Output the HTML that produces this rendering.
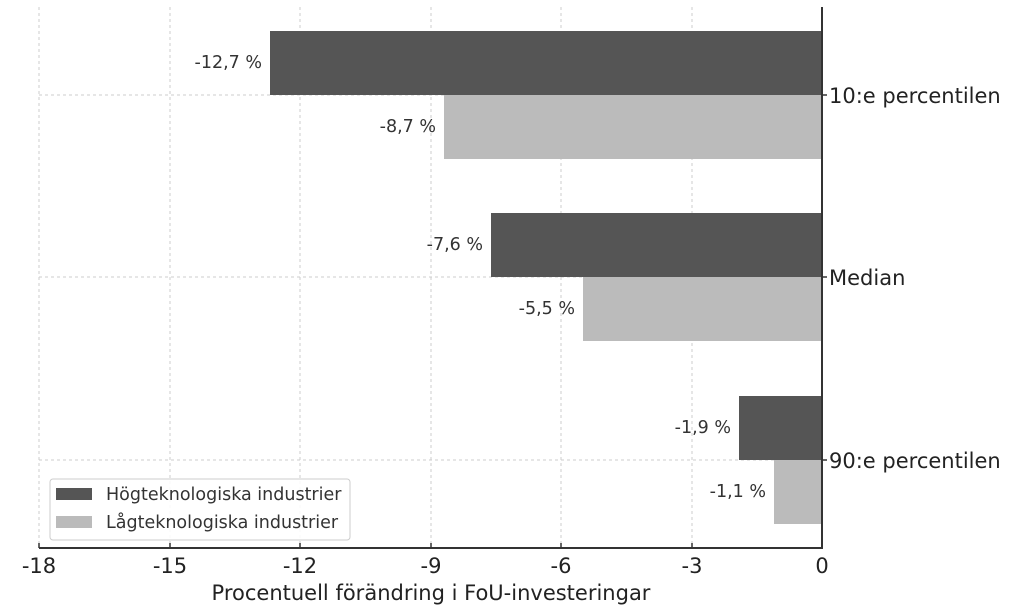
<!DOCTYPE html>
<html><head><meta charset="utf-8"><style>body{margin:0;background:#fff}svg{display:block}</style></head>
<body>
<svg width="1024" height="608" viewBox="0 0 1024 608" font-family="DejaVu Sans, Liberation Sans, sans-serif">
<g stroke="#ccc" stroke-dasharray="3,3" stroke-width="1">
<line x1="39" y1="7" x2="39" y2="548"/><line x1="170" y1="7" x2="170" y2="548"/><line x1="300" y1="7" x2="300" y2="548"/><line x1="431" y1="7" x2="431" y2="548"/><line x1="561" y1="7" x2="561" y2="548"/><line x1="692" y1="7" x2="692" y2="548"/>
<line x1="39" y1="95" x2="822" y2="95"/><line x1="39" y1="277" x2="822" y2="277"/><line x1="39" y1="460" x2="822" y2="460"/>
</g>
<g fill="#555">
<rect x="270" y="31" width="552" height="64"/><rect x="491" y="213" width="331" height="64"/><rect x="739" y="396" width="83" height="64"/>
</g>
<g fill="#bbb">
<rect x="444" y="95" width="378" height="64"/><rect x="583" y="277" width="239" height="64"/><rect x="774" y="460" width="48" height="64"/>
</g>
<g font-size="17.5" fill="#333" text-anchor="end">
<text x="262" y="68">-12,7 %</text><text x="436" y="132">-8,7 %</text><text x="483" y="250">-7,6 %</text><text x="575" y="314">-5,5 %</text><text x="731" y="433">-1,9 %</text><text x="766" y="497">-1,1 %</text>
</g>
<line x1="822" y1="7" x2="822" y2="549" stroke="#333" stroke-width="2"/>
<line x1="39" y1="548" x2="823" y2="548" stroke="#333" stroke-width="2"/>
<g stroke="#333" stroke-width="1.5"><line x1="39" y1="543" x2="39" y2="548"/><line x1="170" y1="543" x2="170" y2="548"/><line x1="300" y1="543" x2="300" y2="548"/><line x1="431" y1="543" x2="431" y2="548"/><line x1="561" y1="543" x2="561" y2="548"/><line x1="692" y1="543" x2="692" y2="548"/><line x1="822" y1="543" x2="822" y2="548"/>
<line x1="822" y1="95" x2="827" y2="95"/><line x1="822" y1="277" x2="827" y2="277"/><line x1="822" y1="460" x2="827" y2="460"/></g>
<g font-size="21" fill="#222" text-anchor="middle">
<text x="39" y="573">-18</text><text x="170" y="573">-15</text><text x="300" y="573">-12</text><text x="431" y="573">-9</text><text x="561" y="573">-6</text><text x="692" y="573">-3</text><text x="822" y="573">0</text>
<text x="431" y="600">Procentuell förändring i FoU-investeringar</text>
</g>
<g font-size="21" fill="#222">
<text x="829" y="103">10:e percentilen</text><text x="829" y="285">Median</text><text x="829" y="468">90:e percentilen</text>
</g>
<rect x="50" y="479" width="300" height="61" rx="3" fill="#fff" fill-opacity="0.85" stroke="#ccc"/>
<rect x="56" y="488" width="36" height="12" fill="#555"/><rect x="56" y="516" width="36" height="12" fill="#bbb"/>
<g font-size="17.5" fill="#333"><text x="106" y="500">Högteknologiska industrier</text><text x="106" y="528">Lågteknologiska industrier</text></g>
</svg>
</body></html>
